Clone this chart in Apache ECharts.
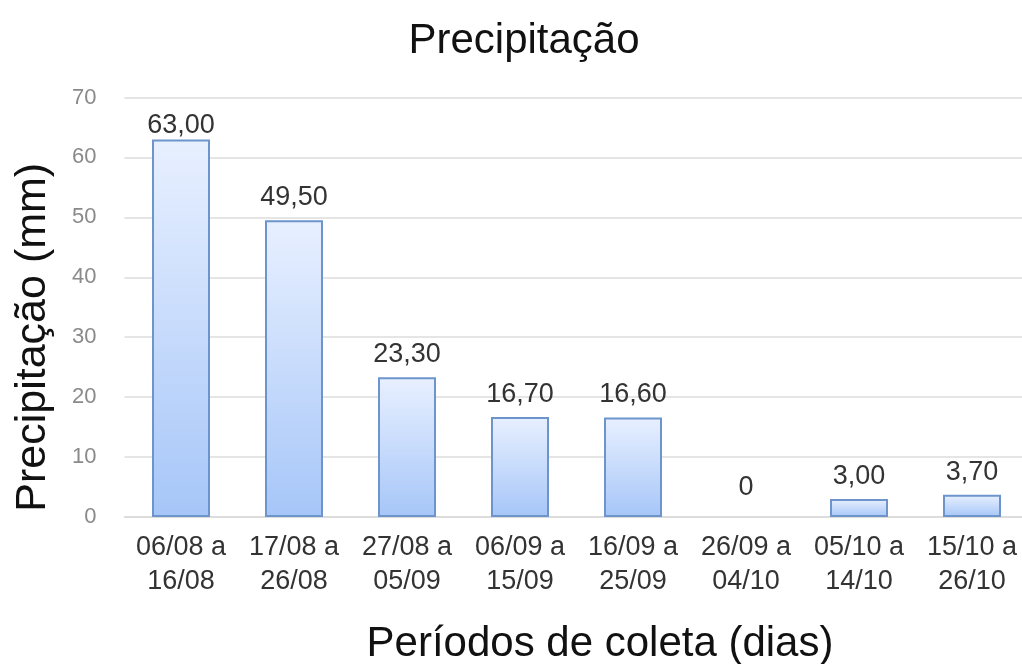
<!DOCTYPE html>
<html><head><meta charset="utf-8">
<script src="https://cdn.jsdelivr.net/npm/echarts@6/dist/echarts.min.js"></script>
<style>html,body{margin:0;padding:0;background:#fff}#c{width:1022px;height:664px}</style>
</head><body><div id="c"></div>
<script>
var categories = ['06/08 a\n16/08','17/08 a\n26/08','27/08 a\n05/09','06/09 a\n15/09','16/09 a\n25/09','26/09 a\n04/10','05/10 a\n14/10','15/10 a\n26/10'];
var values = [63.00, 49.50, 23.30, 16.70, 16.60, 0, 3.00, 3.70];
var yTicks = [0, 10, 20, 30, 40, 50, 60, 70];

function fmt(v){ return v === 0 ? '0' : v.toFixed(2).replace('.', ','); }

var chart = echarts.init(document.getElementById('c'), null, {renderer:'canvas'});
var FONT = '"Liberation Sans", Arial, sans-serif';
var data = values.map(function(v, i){
  var item = {value: v};
  if (i === 0) item.label = {distance: 0};
  if (v === 0) { item.label = {distance: 16}; item.itemStyle = {borderWidth: 0, borderColor: 'rgba(0,0,0,0)', color: 'rgba(0,0,0,0)'}; }
  return item;
});
chart.setOption({
  animation: false,
  title: {
    text: 'Precipitação', left: 519, top: 15, textAlign: 'center',
    textStyle: {fontFamily: FONT, fontSize: 42, fontWeight: 'normal', color: '#111'}
  },
  grid: {left: 124.5, top: 97.5, width: 904, height: 419.5, containLabel: false, outerBoundsMode: 'none'},
  xAxis: {
    type: 'category', data: categories,
    name: 'Períodos de coleta (dias)', nameLocation: 'middle', nameGap: 106,
    nameTextStyle: {fontFamily: FONT, fontSize: 42, color: '#111', padding: [0, 0, 0, 47]},
    axisLine: {show: true, lineStyle: {color: '#d9d9d9', width: 1.5}},
    axisTick: {show: false},
    axisLabel: {fontFamily: FONT, fontSize: 27, color: '#333', lineHeight: 34, margin: 14, interval: 0}
  },
  yAxis: {
    type: 'value', min: yTicks[0], max: yTicks[yTicks.length-1], interval: 10,
    name: 'Precipitação (mm)', nameLocation: 'middle', nameGap: 70, nameRotate: 90,
    nameTextStyle: {fontFamily: FONT, fontSize: 43, color: '#111', padding: [0, 60, 0, 0]},
    axisLine: {show: false}, axisTick: {show: false},
    axisLabel: {fontFamily: FONT, fontSize: 22, color: '#8a8a8a', margin: 28},
    splitLine: {lineStyle: {color: '#dcdcdc', width: 1.5}}
  },
  series: [{
    type: 'bar', data: data, barWidth: 58,
    itemStyle: {
      color: new echarts.graphic.LinearGradient(0, 0, 0, 1, [
        {offset: 0, color: '#e8f0ff'}, {offset: 1, color: '#a6c6f8'}
      ]),
      borderColor: '#6d95cc', borderWidth: 2
    },
    label: {
      show: true, position: 'top', distance: 9,
      fontFamily: FONT, fontSize: 27, color: '#333',
      formatter: function(p){ return fmt(p.value); }
    }
  }]
});
</script></body></html>
